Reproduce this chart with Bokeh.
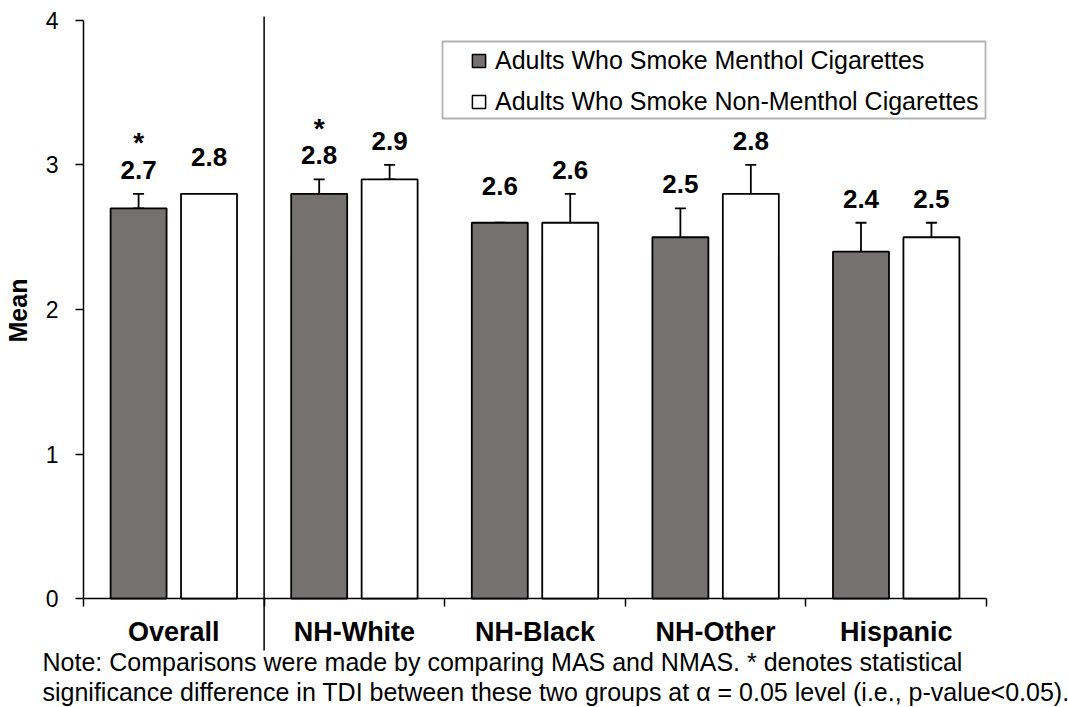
import math
from bokeh.plotting import figure
from bokeh.models import (Range1d, FixedTicker, Whisker, TeeHead, ColumnDataSource,
                          Label, Legend, LegendItem, BoxAnnotation,
                          CustomJSTickFormatter)
from bokeh.core.properties import value
from bokeh.embed import file_html
from bokeh.resources import INLINE

# ---- data -------------------------------------------------------------
groups = ["Overall", "NH-White", "NH-Black", "NH-Other", "Hispanic"]
series_names = ["Adults Who Smoke Menthol Cigarettes",
                "Adults Who Smoke Non-Menthol Cigarettes"]

menthol_mean = [2.7, 2.8, 2.6, 2.5, 2.4]
menthol_lower = [2.7, 2.7, 2.5, 2.2, 2.3]
menthol_upper = [2.8, 2.9, 2.6, 2.7, 2.6]

nonmenthol_mean = [2.8, 2.9, 2.6, 2.8, 2.5]
nonmenthol_lower = [2.7, 2.9, 2.4, 2.7, 2.4]
nonmenthol_upper = [2.8, 3.0, 2.8, 3.0, 2.6]

significant = [True, True, False, False, False]
y_ticks = [0, 1, 2, 3, 4]
y_label = "Mean"

note_lines = [
    "Note: Comparisons were made by comparing MAS and NMAS. * denotes statistical",
    "significance difference in TDI between these two groups at \u03b1 = 0.05 level (i.e., p-value<0.05).",
]

# ---- style ------------------------------------------------------------
FONT_NAME = "Liberation Sans"
FONT = value(FONT_NAME)
MENTHOL_FILL = "#767171"
BAR_W = 0.31
OFFSET = 0.195
LW = 1.8
W, H = 1068, 707
# label clearance (data units) above the error bar and above the bar itself
GAP_ABOVE_WHISKER = 0.166
GAP_ABOVE_BAR = 0.256

n = len(groups)
centers = [i + 0.5 for i in range(n)]

# the frame fills the whole canvas; both axes sit at fixed data locations
p = figure(width=W, height=H,
           x_range=Range1d(-0.4596, 5.454), y_range=Range1d(-0.754, 4.138),
           output_backend="svg", toolbar_location=None,
           min_border_left=0, min_border_right=0,
           min_border_top=0, min_border_bottom=0,
           outline_line_color=None)
p.xgrid.visible = False
p.ygrid.visible = False
p.background_fill_color = "white"

# ---- bars -------------------------------------------------------------
series = [
    (menthol_mean, menthol_lower, menthol_upper, -OFFSET, MENTHOL_FILL, significant),
    (nonmenthol_mean, nonmenthol_lower, nonmenthol_upper, OFFSET, "white",
     [False] * n),
]
legend_renderers = []
for means, lows, highs, off, fill, sig in series:
    label_y = [max(u + GAP_ABOVE_WHISKER, m + GAP_ABOVE_BAR)
               for m, u in zip(means, highs)]
    src = ColumnDataSource(dict(
        x=[c + off for c in centers],
        top=means,
        lower=lows,
        upper=highs,
        label_y=label_y,
        label=[f"{m:.1f}" for m in means],
        star=["*" if s else "" for s in sig],
    ))
    p.vbar(x="x", top="top", bottom=0, width=BAR_W, source=src,
           fill_color=fill, line_color="black", line_width=LW)
    p.add_layout(Whisker(source=src, base="x", lower="lower", upper="upper",
                         line_color="black", line_width=LW,
                         upper_head=TeeHead(size=11, line_color="black", line_width=LW),
                         lower_head=TeeHead(size=11, line_color="black", line_width=LW)))
    p.text(x="x", y="label_y", text="label", source=src,
           text_align="center", text_baseline="alphabetic", y_offset=0,
           text_font=FONT, text_font_size="26px", text_font_style="bold",
           text_color="black")
    # significance marker stacked over the value label
    p.text(x="x", y="label_y", text="star", source=src,
           text_align="center", text_baseline="alphabetic", y_offset=-27,
           text_font=FONT, text_font_size="28px", text_font_style="bold",
           text_color="black")
    # off-screen point: only used to draw the legend swatch
    legend_renderers.append(
        p.scatter(x=[math.nan], y=[math.nan], marker="square", size=13,
                  fill_color=fill, line_color="black", line_width=1.5))

# divider between the overall group and the subgroups
p.segment(x0=[1], y0=[-0.36], x1=[1], y1=[4.028],
          line_color="black", line_width=1.5)

# ---- axes -------------------------------------------------------------
xa = p.xaxis[0]
xa.fixed_location = 0
xa.bounds = (0, n)
xa.ticker = FixedTicker(ticks=centers, minor_ticks=list(range(n + 1)))
xa.formatter = CustomJSTickFormatter(args=dict(labels=groups),
                                     code="return labels[Math.floor(tick)] || '';")
xa.major_tick_out = 0
xa.major_tick_in = 0
xa.minor_tick_out = 8
xa.minor_tick_in = 0
xa.minor_tick_line_color = "black"
xa.minor_tick_line_width = 1.5
xa.axis_line_color = "black"
xa.axis_line_width = 1.5
xa.major_label_standoff = 10
xa.major_label_text_font = FONT_NAME
xa.major_label_text_font_size = "27px"
xa.major_label_text_font_style = "bold"
xa.major_label_text_color = "black"

ya = p.yaxis[0]
ya.fixed_location = 0
ya.bounds = (0, 4)
ya.ticker = FixedTicker(ticks=y_ticks, minor_ticks=[])
ya.major_tick_out = 8
ya.major_tick_in = 0
ya.major_tick_line_color = "black"
ya.major_tick_line_width = 1.5
ya.axis_line_color = "black"
ya.axis_line_width = 1.5
ya.major_label_standoff = 17
ya.major_label_text_font = FONT_NAME
ya.major_label_text_font_size = "23px"
ya.major_label_text_color = "black"

p.add_layout(Label(x=17, y=H - 310, x_units="screen", y_units="screen",
                   text=y_label, angle=math.pi / 2,
                   text_align="center", text_baseline="alphabetic",
                   text_font=FONT_NAME, text_font_size="25px",
                   text_font_style="bold", text_color="black"))

# ---- legend -----------------------------------------------------------
p.add_layout(BoxAnnotation(left=442, right=985, bottom=H - 118, top=H - 41,
                           left_units="screen", right_units="screen",
                           bottom_units="screen", top_units="screen",
                           fill_color="white", fill_alpha=1.0,
                           line_color="black", line_width=1.8))
legend = Legend(items=[LegendItem(label=name, renderers=[r])
                       for name, r in zip(series_names, legend_renderers)],
                location=(462, H - 117.5), padding=0, margin=0, spacing=8,
                glyph_width=33, glyph_height=33, label_height=33,
                label_standoff=-3,
                label_text_font=FONT_NAME, label_text_font_size="25px",
                label_text_color="black",
                border_line_color=None, background_fill_alpha=0)
p.add_layout(legend)

# ---- footnote ---------------------------------------------------------
for i, line in enumerate(note_lines):
    p.add_layout(Label(x=42, y=H - 661 - 30 * i, x_units="screen", y_units="screen",
                       text=line, text_font=FONT_NAME, text_font_size="25px",
                       text_color="black", text_baseline="alphabetic"))

open("out.html", "w").write(file_html(p, INLINE))
